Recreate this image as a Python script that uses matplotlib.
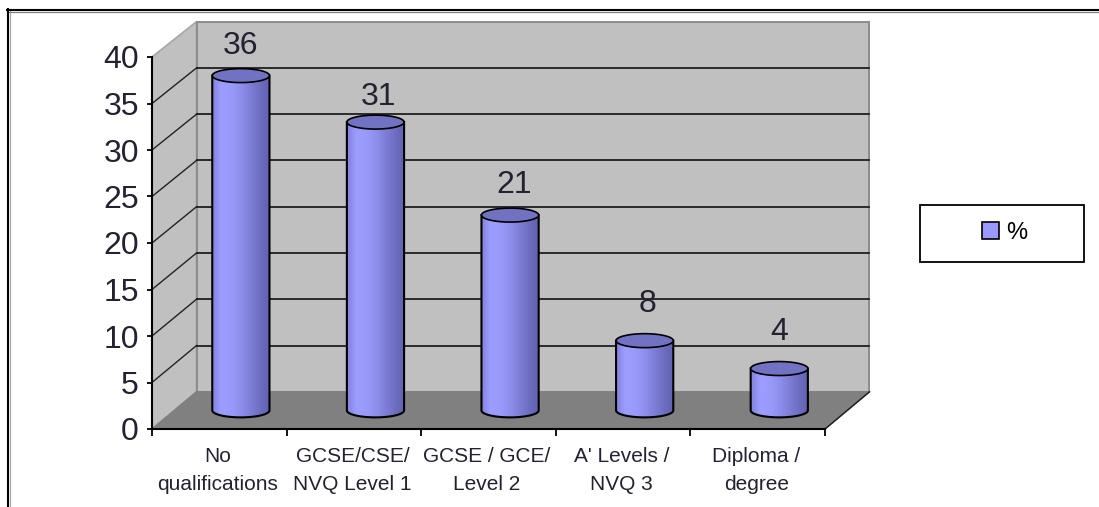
import numpy as np
import matplotlib
matplotlib.use("Agg")
import matplotlib.pyplot as plt
from matplotlib.patches import Polygon, Rectangle, Patch

categories = ["No\nqualifications", "GCSE/CSE/\nNVQ Level 1", "GCSE / GCE/\nLevel 2",
              "A' Levels /\nNVQ 3", "Diploma /\ndegree"]
labels = [36, 31, 21, 8, 4]
heights = [36, 31, 21, 7.5, 4.5]  # drawn bars differ a little from the rounded labels
yticks = [0, 5, 10, 15, 20, 25, 30, 35, 40]
legend_name = "%"

W, H = 1099, 507
plt.rcParams['font.family'] = ['Liberation Sans', 'DejaVu Sans']
text_col = "#222230"

fig = plt.figure(figsize=(W / 100, H / 100), dpi=100)
ax = fig.add_axes([152 / W, 1 - 429 / H, (825 - 152) / W, (429 - 57) / H])
ax.patch.set_visible(False)

# depth of the fake 3d box, in data units
dx = 44.5 / (673 / 5)
dy = 4.0
back = 0.995  # back wall is drawn a touch shorter than the front axis
ymax = 40
n = len(categories)


def back_y(v):
    return dy + v * back


# walls and floor
ax.add_patch(Polygon([(0, 0), (dx, dy), (dx, back_y(ymax)), (0, ymax)], fc="#c0c0c0", ec="#a6a6a6", lw=1.2, clip_on=False, zorder=1))
ax.add_patch(Polygon([(dx, dy), (n + dx, dy), (n + dx, back_y(ymax)), (dx, back_y(ymax))], fc="#c0c0c0", ec="#8c8c8c", lw=1.4, clip_on=False, zorder=1))
ax.add_patch(Polygon([(0, 0), (n, 0), (n + dx, dy), (dx, dy)], fc="#808080", ec="#808080", lw=1, clip_on=False, zorder=1))
ax.plot([n, n + dx], [0, dy], color="#222222", lw=1.1, clip_on=False, zorder=2)

# gridlines, along the side wall then the back wall
for t in yticks[1:-1]:
    ax.plot([0, dx], [t, back_y(t)], color="#222222", lw=1.0, clip_on=False, zorder=2)
    ax.plot([dx, n + dx], [back_y(t), back_y(t)], color="#111111", lw=1.2, clip_on=False, zorder=2)

# cylinders
bw = 0.425
ry = 0.75
grad = np.array([[0.72, 1.0, 1.0, 0.95, 0.86, 0.74, 0.6, 0.46, 0.32, 0.22]])
c0 = np.array([0x55, 0x55, 0xa0]) / 255
c1 = np.array([0x9c, 0x9c, 0xff]) / 255
shade = c0[None, None, :] + (c1 - c0)[None, None, :] * grad[:, :, None]

# text sits at slightly uneven spots above each bar
label_lift = [3.15, 2.7, 3.25, 3.9, 3.9]
label_shift = [0.0, 0.022, 0.03, 0.022, 0.0]

for i, h in enumerate(heights):
    xc = i + 0.5 + dx / 2 - 0.005
    y0 = dy / 2
    y1 = dy / 2 + h
    t = np.linspace(0, np.pi, 40)
    xs = xc - bw / 2 * np.cos(t)
    ys = y0 - ry * np.sin(t)
    body = np.column_stack([np.r_[xs, xs[-1], xs[0]], np.r_[ys, y1, y1]])
    im = ax.imshow(shade, extent=[xc - bw / 2, xc + bw / 2, y0 - ry, y1], aspect="auto", interpolation="bilinear", zorder=3)
    ax.add_patch(Polygon(body, fc="none", ec="black", lw=1.5, zorder=4, clip_on=False))
    im.set_clip_path(Polygon(body, transform=ax.transData))
    t = np.linspace(0, 2 * np.pi, 60)
    ax.add_patch(Polygon(np.column_stack([xc + bw / 2 * np.cos(t), y1 + ry * np.sin(t)]), fc="#7272c2", ec="black", lw=1.2, zorder=5, clip_on=False))
    ax.text(xc + label_shift[i], y1 + label_lift[i], str(labels[i]), ha="center", va="center", fontsize=23, color=text_col, zorder=6)

ax.set_xlim(0, 5)
ax.set_ylim(0, 40)

# axes
for s in ["top", "right"]:
    ax.spines[s].set_visible(False)
for s in ["left", "bottom"]:
    ax.spines[s].set_linewidth(1.5)
    ax.spines[s].set_zorder(7)
ax.set_yticks(yticks)
ax.tick_params(axis="y", labelsize=23, length=3.5, width=1.3, pad=6, labelcolor=text_col)
ax.set_xticks(np.arange(n + 1))
ax.set_xticklabels([])
ax.tick_params(axis="x", length=5, width=1.3)
for i, c in enumerate(categories):
    ax.annotate(c, (i + 0.5, 0), xytext=(-1, -13), textcoords="offset points", ha="center", va="top",
                fontsize=15, linespacing=1.62, color=text_col, annotation_clip=False)

# outer frame, top and left only, black with a grey inner edge
fig.add_artist(plt.Line2D([8 / W, 8 / W], [0, 1 - 9 / H], color="black", lw=1.5))
fig.add_artist(plt.Line2D([7 / W, 1], [1 - 10 / H, 1 - 10 / H], color="black", lw=1.5))
fig.add_artist(plt.Line2D([9.7 / W, 9.7 / W], [0, 1 - 11 / H], color="#a8a8a8", lw=0.9))
fig.add_artist(plt.Line2D([9 / W, 1], [1 - 11.7 / H, 1 - 11.7 / H], color="#808080", lw=0.9))

# legend box
fig.add_artist(Rectangle((920 / W, 1 - 262 / H), 164 / W, 57 / H, transform=fig.transFigure, fc="white", ec="black", lw=1.3))
leg = fig.legend(handles=[Patch(fc="#9999ff", ec="black", lw=1.2, label=legend_name)], loc="center",
                 bbox_to_anchor=(1004.5 / W, 1 - 233 / H), frameon=False, fontsize=17,
                 handlelength=0.7, handleheight=0.7, handletextpad=0.3)

fig.savefig("out.png", dpi=100)
